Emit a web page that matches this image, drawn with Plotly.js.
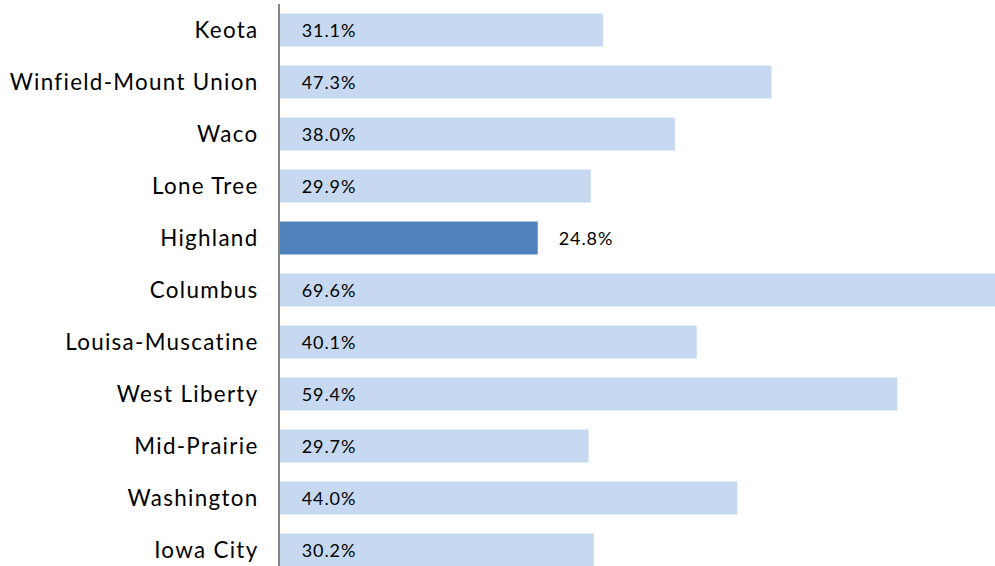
<!DOCTYPE html>
<html><head><meta charset="utf-8">
<script src="https://cdn.plot.ly/plotly-3.0.1.min.js"></script>
<style>
html,body{margin:0;padding:0;background:#fff}
#chart .ytick text{letter-spacing:1.3px}
#chart .annotation-text{letter-spacing:0.9px}
</style>
</head><body>
<div id="chart" style="width:995px;height:566px"></div>
<script>
const districts = ["Keota","Winfield-Mount Union","Waco","Lone Tree","Highland","Columbus","Louisa-Muscatine","West Liberty","Mid-Prairie","Washington","Iowa City"];
const percents = [31.1,47.3,38.0,29.9,24.8,69.6,40.1,59.4,29.7,44.0,30.2];
const highlight = "Highland";

const cats = districts.slice().reverse();
const vals = percents.slice().reverse();
const colors = cats.map(c => c === highlight ? "#4F81BD" : "#C6D9F1");

const FONT = "Lato, 'Liberation Sans', sans-serif";
const annotations = cats.map((c, i) => ({
  x: c === highlight ? vals[i] : 0,
  y: c,
  xref: "x", yref: "y",
  text: vals[i].toFixed(1) + "%",
  showarrow: false,
  xanchor: "left",
  xshift: c === highlight ? 21 : 22,
  font: {family: FONT, size: 18, color: "#000"}
}));

Plotly.newPlot("chart", [{
  type: "bar",
  orientation: "h",
  y: cats,
  x: vals,
  marker: {color: colors},
  hoverinfo: "none"
}], {
  width: 995, height: 566,
  margin: {l: 280, r: 0, t: 4, b: 0},
  bargap: 0.365,
  showlegend: false,
  paper_bgcolor: "#fff", plot_bgcolor: "#fff",
  xaxis: {range: [0, 68.8], showgrid: false, zeroline: false, showticklabels: false, ticks: "", showline: false, fixedrange: true},
  yaxis: {type: "category", range: [-0.31, 10.5], showgrid: false, zeroline: false, showline: true, linecolor: "#868686", linewidth: 2, ticks: "", ticklabelstandoff: 15, tickfont: {family: FONT, size: 22.4, color: "#000"}, fixedrange: true},
  annotations: annotations
}, {displayModeBar: false, staticPlot: true});
</script>
</body></html>
